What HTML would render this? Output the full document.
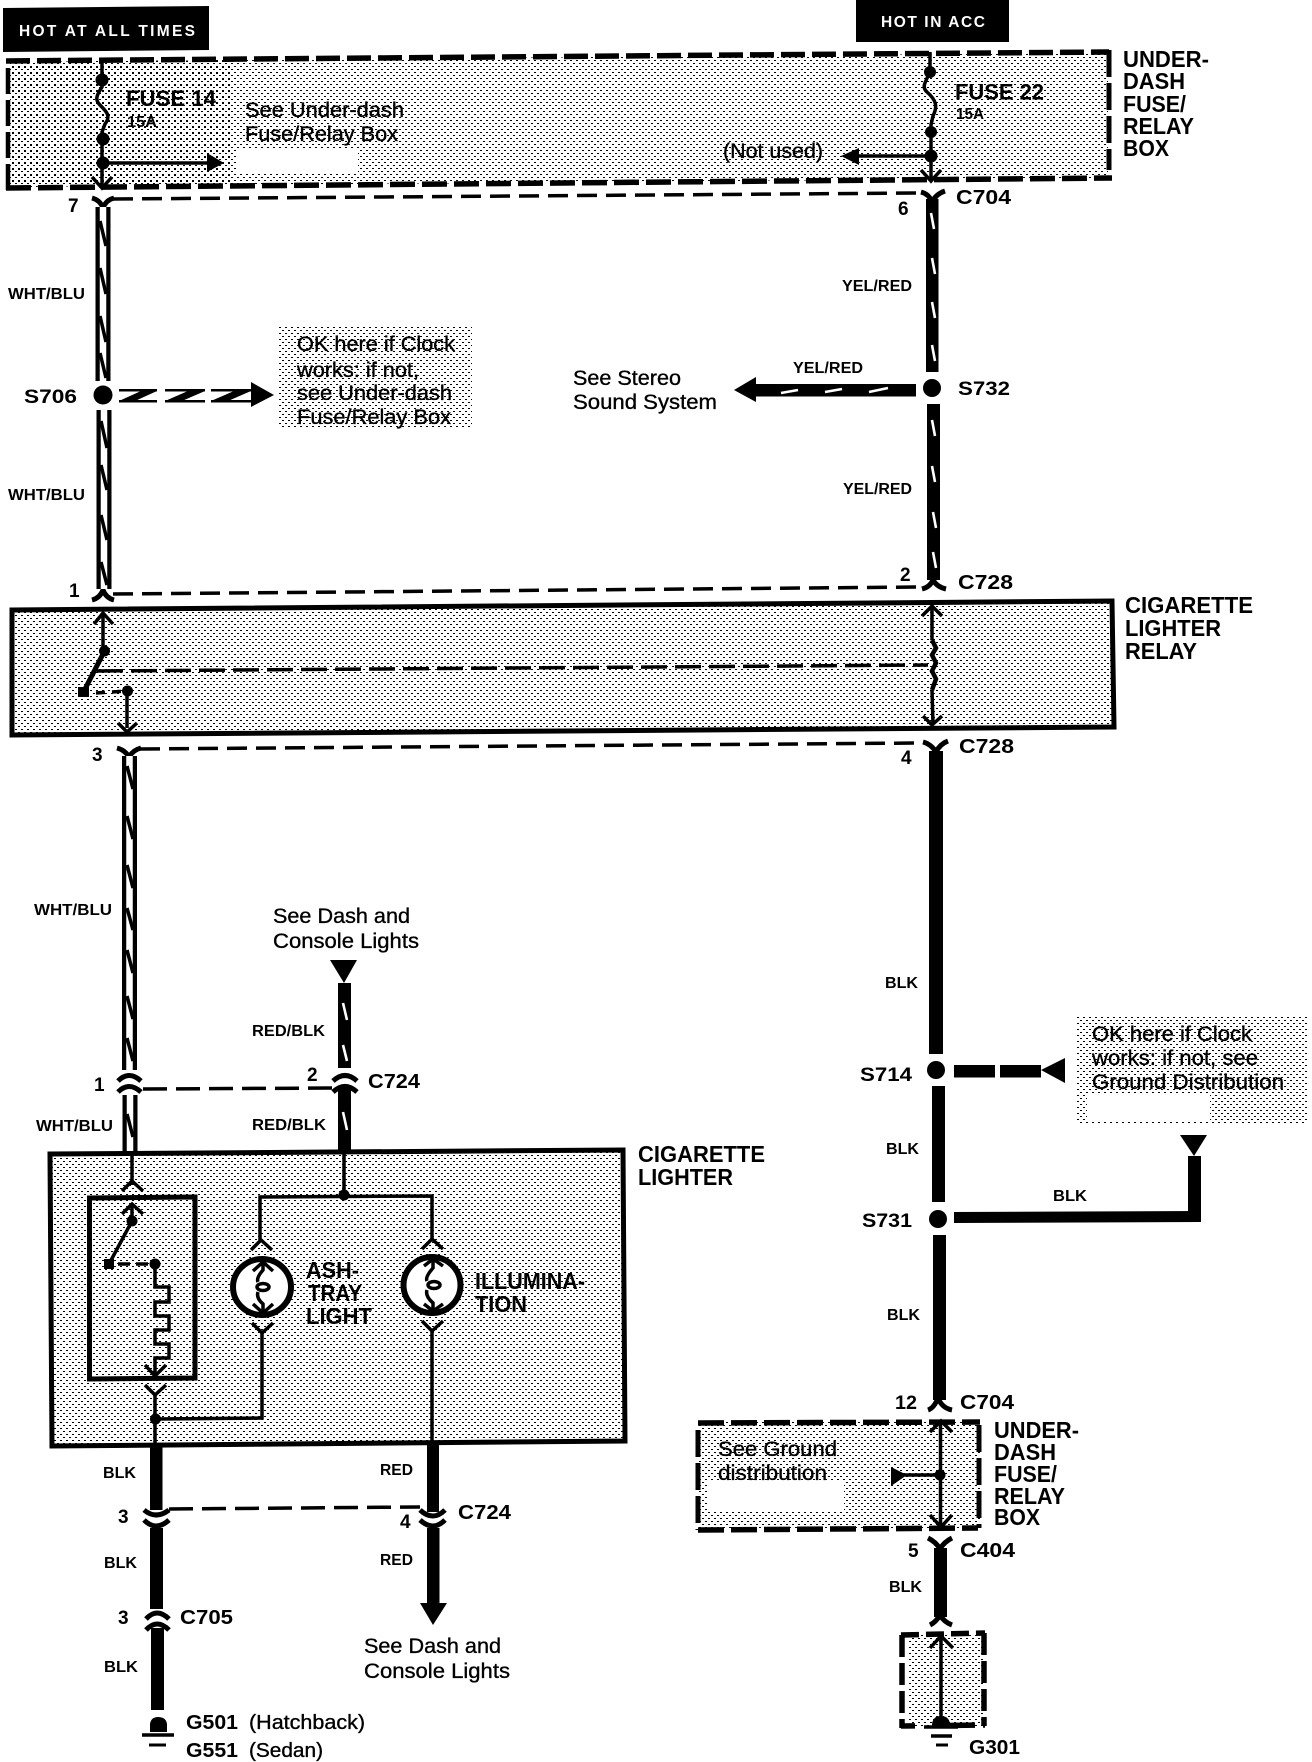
<!DOCTYPE html>
<html><head><meta charset="utf-8"><style>
html,body{margin:0;padding:0;background:#fff}
svg{display:block}
text{font-family:"Liberation Sans",sans-serif;fill:#000}
.b{font-weight:bold}
.r{stroke:#000;stroke-width:.35}
.w{fill:#fff;font-weight:bold}
.k{fill:none;stroke:#000;stroke-linecap:butt;stroke-linejoin:miter}
.hl{fill:none;stroke:#fff}
</style></head><body>
<svg width="1312" height="1762" viewBox="0 0 1312 1762" xmlns="http://www.w3.org/2000/svg">
<defs>
<pattern id="h" width="6" height="6" patternUnits="userSpaceOnUse"><rect width="2" height="1" x="0" y="0"/><rect width="2" height="1" x="3" y="3"/></pattern>
<pattern id="d" width="6" height="6" patternUnits="userSpaceOnUse"><rect width="2" height="2" x="0" y="0"/><rect width="2" height="1" x="3" y="3"/></pattern>
</defs>
<rect width="1312" height="1762" fill="#fff"/>

<!-- shaded fills -->
<g shape-rendering="crispEdges" fill="url(#h)">
<polygon points="230,60 1108,53 1108,178 230,185"/>
<polygon fill="url(#d)" points="10,62 230,60 230,185 10,187"/>
<polygon points="278,325 472,325 472,428 278,428"/>
<polygon points="12,610 1112,601 1114,727 12,735"/>
<polygon points="1076,1015 1307,1015 1307,1123 1076,1123"/>
<polygon points="50,1154 623,1150 625,1441 52,1446"/>
<polygon points="698,1422 980,1422 980,1530 698,1530"/>
<polygon points="908,1634 984,1634 984,1727 908,1727"/>
</g>
<g fill="#fff">
<rect x="236" y="150" width="122" height="23"/>
<rect x="1087" y="1093" width="123" height="27"/>
<rect x="708" y="1482" width="136" height="29"/>
</g>

<!-- black headers -->
<polygon points="3,8 209,6 209,50 3,52"/>
<rect x="856" y="0" width="153" height="42"/>
<text class="w" x="19" y="36" font-size="15.500" textLength="176" lengthAdjust="spacing">HOT AT ALL TIMES</text>
<text class="w" x="881" y="27" font-size="15.500" textLength="104" lengthAdjust="spacing">HOT IN ACC</text>

<!-- dashed box: fuse/relay -->
<g class="k" stroke-width="5.500">
<path d="M6,61 L1109,52" stroke-dasharray="24 7"/>
<path d="M6,188 L1112,178" stroke-dasharray="25 7"/>
<path d="M8,68 L8,190" stroke-dasharray="26 6" stroke-width="4.500"/>
<path d="M1109,50 L1109,170" stroke-dasharray="27 6" stroke-width="5"/>
</g>

<!-- fuse 14 -->
<g class="k" stroke-width="3.500">
<path d="M102,60 L102,87 C96,96 95,100 100,105 C107,112 111,116 105,124 L102,132 L102,187"/>
<path d="M102,163 L210,163"/>
<path d="M92,177 L102,188 L112,177"/>
</g>
<circle cx="102" cy="80" r="6.500"/><circle cx="103" cy="139" r="6.500"/><circle cx="103" cy="163" r="6.500"/>
<polygon points="207,153 224,163 207,172"/>

<!-- fuse 22 -->
<g class="k" stroke-width="3.500">
<path d="M930,52 L930,72 C924,84 922,88 927,92 C936,100 938,106 933,116 L931,125 L931,180"/>
<path d="M931,156 L850,156"/>
<path d="M921,170 L931,181 L941,170"/>
</g>
<circle cx="930" cy="72" r="6"/><circle cx="931" cy="132" r="6"/><circle cx="931" cy="156" r="6.500"/>
<polygon points="841,156 859,148 859,165"/>

<!-- thin connector dashes -->
<g class="k" stroke-width="3.500" stroke-dasharray="20 9">
<path d="M113,199 L920,193"/>
<path d="M113,594 L920,587"/>
<path d="M140,749 L920,743"/>
<path d="M143,1089 L335,1088" stroke-dasharray="24 9"/>
<path d="M169,1509 L420,1507" stroke-dasharray="24 9"/>
<path d="M97,671 L928,665" stroke-dasharray="26 8"/>
</g>

<!-- connector forks -->
<g class="k" stroke-width="5">
<path d="M92,198 Q100,200 103,208 Q106,200 114,198"/>
<path d="M921,192 Q929,194 932,202 Q936,194 945,191"/>
<path d="M92,600 Q100,598 103,590 Q106,598 114,600"/>
<path d="M922,589 Q930,587 933,580 Q937,587 946,589"/>
<path d="M117,748 Q125,750 129,757 Q133,750 141,748"/>
<path d="M923,742 Q931,744 936,752 Q940,744 948,741"/>
<path d="M118,1081 Q129,1070 141,1081"/>
<path d="M118,1092 Q129,1081 141,1092"/>
<path d="M333,1081 Q345,1070 357,1081"/>
<path d="M333,1092 Q345,1081 357,1092"/>
<path d="M144,1510 Q156,1520 169,1510"/>
<path d="M144,1520 Q156,1532 169,1520"/>
<path d="M420,1510 Q433,1522 445,1510"/>
<path d="M420,1520 Q433,1532 445,1520"/>
<path d="M146,1619 Q157,1607 169,1619"/>
<path d="M146,1630 Q157,1618 169,1630"/>
<path d="M928,1410 Q934,1408 938,1398 Q942,1408 952,1410"/>
<path d="M928,1538 Q936,1542 940,1549 Q944,1542 952,1538"/>
<path d="M930,1625 Q936,1622 940,1615 Q944,1622 952,1625"/>
</g>

<!-- WHT/BLU wires -->
<g class="k" stroke-width="15">
<path d="M103,207 L103,381"/><path d="M104,410 L104,589"/>
<path d="M129.500,756 L129.500,1070"/><path d="M130,1095 L130,1152"/>
</g>
<g class="hl" stroke-width="6.500">
<path d="M103,207 L103,381"/><path d="M104,410 L104,589"/>
<path d="M129.500,756 L129.500,1070"/><path d="M130,1095 L130,1152"/>
</g>
<g class="k" stroke-width="3.500">
<path d="M100,221 L106,246 M100,268 L106,294 M100,316 L106,342 M100,353 L106,378"/>
<path d="M101,421 L107,448 M101,465 L107,490 M101,515 L107,540 M101,562 L107,585"/>
<path d="M127,766 L133,789 M127,816 L133,839 M127,865 L133,888 M127,908 L133,930 M127,950 L133,973 M127,996 L133,1019 M127,1038 L133,1061"/>
<path d="M127,1114 L133,1137"/>
</g>
<!-- S706 branch -->
<circle cx="103" cy="395" r="9.500"/>
<g>
<rect x="119" y="389" width="38" height="2.500"/><rect x="119" y="400" width="38" height="2.500"/>
<polygon points="141,391 157,391 135,401 119,401"/>
<rect x="165" y="389" width="40" height="2.500"/><rect x="165" y="400" width="40" height="2.500"/>
<polygon points="188,391 205,391 182,401 165,401"/>
<rect x="211" y="389" width="40" height="2.500"/><rect x="211" y="400" width="40" height="2.500"/>
<polygon points="234,391 251,391 228,401 211,401"/>
</g>
<polygon points="251,382 274,395 251,407"/>

<!-- YEL/RED wires -->
<rect x="926" y="199" width="12.500" height="173"/>
<rect x="927" y="404" width="13" height="176"/>
<circle cx="932" cy="388" r="9"/>
<rect x="756" y="384" width="160" height="12.500"/>
<polygon points="734,390 756,377 756,402"/>
<g class="hl" stroke-width="2.600">
<path d="M931,213 L934,229 M932,258 L935,274 M932,302 L935,318 M932,345 L935,361"/>
<path d="M932,420 L935,436 M932,466 L935,482 M933,512 L936,528 M933,552 L936,568"/>
<path d="M781,393 L798,390 M825,392 L842,389 M869,392 L888,388"/>
</g>

<!-- relay box -->
<polygon class="k" stroke-width="5" points="12,610 1112,601 1114,727 12,735"/>
<g class="k" stroke-width="3.500">
<path d="M103,614 L103,650"/>
<path d="M94,624 L103,613 L113,624"/>
<path d="M104,652 L84,691" stroke-width="5"/>
<path d="M127,691 L127,728"/>
<path d="M118,723 L127,732 L137,723"/>
<path d="M932,606 L932,640 M932,690 L933,724"/>
<path d="M922,616 L932,606 L942,616"/>
<path d="M923,716 L932,725 L942,716"/>
<path d="M932,640 L936,648 L932,655 L936,663 L932,671 L936,679 L932,690" stroke-width="4.500"/>
<path d="M96,693 L127,691" stroke-dasharray="9 7"/>
</g>
<circle cx="104.500" cy="651" r="5.500"/><circle cx="127.500" cy="691" r="5.500"/>
<rect x="78" y="687" width="11" height="10"/>

<!-- C724 upper red/blk -->
<polygon points="330,960 357,960 344,983"/>
<rect x="338" y="983" width="13" height="85"/>
<rect x="338" y="1088" width="13" height="65"/>
<g class="hl" stroke-width="2.600"><path d="M343,1003 L347,1020 M343,1045 L347,1061 M343,1112 L347,1130"/></g>

<!-- BLK right wire -->
<rect x="929" y="751" width="14" height="303"/>
<rect x="932" y="1086" width="13" height="116"/>
<rect x="933" y="1235" width="13" height="165"/>
<circle cx="936" cy="1070" r="9"/>
<circle cx="938" cy="1219" r="9"/>
<rect x="954" y="1065" width="41" height="12.500"/>
<rect x="1000" y="1065" width="41" height="12.500"/>
<polygon points="1041,1070 1065,1058 1065,1083"/>
<polygon points="1180,1135 1207,1135 1194,1156"/>
<rect x="1188" y="1156" width="13" height="66"/>
<polygon points="954,1212 1201,1211 1201,1222 954,1223"/>

<!-- lighter box -->
<polygon class="k" stroke-width="5" points="50,1154 623,1150 625,1441 52,1446"/>
<polygon class="k" stroke-width="5" points="89.500,1198 195,1197 195,1378 89.500,1379"/>
<g class="k" stroke-width="3.500">
<path d="M132,1152 L132,1185 M132,1205 L132,1221"/>
<path d="M122,1191 L132,1181 L143,1191"/>
<path d="M122,1214 L132,1204 L143,1214"/>
<path d="M132,1221 L109,1264"/>
<path d="M118,1264 L155,1264" stroke-dasharray="12 6 12 6"/>
<path d="M155,1264 L155,1287 L169,1287 L169,1302 L155,1302 L155,1316 L169,1316 L169,1330 L155,1330 L155,1344 L169,1344 L169,1358 L155,1358 L155,1375"/>
<path d="M145,1365 L155,1376 L166,1365"/>
<path d="M145,1385 L155,1395 L166,1385"/>
<path d="M155,1395 L155,1446"/>
<path d="M344,1152 L344,1196"/>
<path d="M260,1240 L260,1197 L432,1196 L432,1239"/>
<path d="M251,1250 L261,1240 L272,1250"/>
<path d="M422,1249 L432,1239 L443,1249"/>
<path d="M252,1323 L262,1333 L273,1323"/>
<path d="M262,1333 L262,1418 L156,1419"/>
<path d="M422,1321 L432,1331 L443,1321"/>
<path d="M432,1331 L432,1446"/>
</g>
<circle cx="132" cy="1221" r="5.500"/><circle cx="155" cy="1264" r="5.500"/><rect x="104" y="1259" width="10" height="10"/>
<circle cx="344" cy="1195" r="5.500"/><circle cx="155.500" cy="1419" r="5.500"/>
<!-- bulbs -->
<g class="k">
<ellipse cx="262" cy="1287" rx="29" ry="28" stroke-width="6" fill="#fff"/>
<ellipse cx="432" cy="1285" rx="28.500" ry="28" stroke-width="6" fill="#fff"/>
<g stroke-width="3.500">
<path d="M263,1261 L263,1270 Q256,1278 258,1282 M258,1292 Q256,1298 263,1304 L263,1313"/>
<path d="M253,1271 L263,1262 L273,1271 M253,1304 L263,1313 L273,1304"/>
<path d="M433,1259 L433,1268 Q425,1277 427,1281 M427,1290 Q425,1296 433,1303 L433,1311"/>
<path d="M424,1304 L433,1311 L443,1304 M424,1266 L433,1259 L443,1266"/>
</g>
<ellipse cx="263" cy="1287" rx="6" ry="3.500" stroke-width="3.500"/>
<ellipse cx="434" cy="1285" rx="6" ry="3.500" stroke-width="3.500"/>
</g>

<!-- lower wires -->
<rect x="150" y="1446" width="12.500" height="64"/>
<rect x="150" y="1528" width="13" height="81"/>
<rect x="151" y="1628" width="13" height="82"/>
<rect x="427" y="1442" width="12" height="70"/>
<rect x="427" y="1528" width="12.500" height="75"/>
<polygon points="420,1603 447,1603 433,1625"/>

<!-- ground left -->
<path d="M150,1732 L150,1724 Q151,1717 158,1717 Q166,1717 167,1724 L167,1732 Z"/>
<g class="k" stroke-width="3.500"><path d="M142,1735 L174,1735"/><path d="M149,1745 L166,1745" stroke-width="3"/></g>

<!-- ground-distribution box -->
<g class="k" stroke-width="5.500">
<path d="M698,1423 L980,1422" stroke-dasharray="26 7"/>
<path d="M698,1530 L978,1528" stroke-dasharray="26 7"/>
<path d="M698,1430 L698,1530" stroke-dasharray="27 6" stroke-width="5"/>
<path d="M979,1425 L979,1528" stroke-dasharray="27 6" stroke-width="5"/>
</g>
<g class="k" stroke-width="3.500">
<path d="M940.500,1421 L940.500,1527"/>
<path d="M930,1432 L941,1421 L952,1432"/>
<path d="M930,1515 L941,1527 L952,1515"/>
<path d="M905,1475 L940,1475"/>
</g>
<circle cx="940" cy="1475" r="5.500"/>
<polygon points="891,1467 907,1475 891,1486"/>
<rect x="934" y="1548" width="13" height="69"/>

<!-- G301 -->
<g class="k" stroke-width="5.500">
<path d="M901,1635 L985,1633" stroke-dasharray="18 7"/>
<path d="M901,1726 L985,1725" stroke-dasharray="14 30 30 8"/>
<path d="M902,1635 L902,1728" stroke-dasharray="22 6"/>
<path d="M984,1633 L984,1726" stroke-dasharray="22 6"/>
</g>
<g class="k" stroke-width="3.500">
<path d="M941,1636 L941,1717"/>
<path d="M930,1648 L941,1636 L953,1648"/>
</g>
<path d="M932,1728 L932,1724 Q933,1716 941,1716 Q949,1716 950,1724 L950,1728 Z"/>
<g class="k" stroke-width="3.500"><path d="M924,1727 L958,1727"/><path d="M931,1736 L952,1736"/><path d="M936,1745 L948,1745" stroke-width="3"/></g>

<!-- bold labels -->
<g class="b">
<text x="126" y="106" font-size="22" textLength="90" lengthAdjust="spacingAndGlyphs">FUSE 14</text>
<text x="127" y="127" font-size="16" textLength="30" lengthAdjust="spacingAndGlyphs">15A</text>
<text x="955" y="99.500" font-size="22" textLength="89" lengthAdjust="spacingAndGlyphs">FUSE 22</text>
<text x="956" y="119" font-size="16" textLength="28" lengthAdjust="spacingAndGlyphs">15A</text>
<text x="1123" y="67" font-size="23" textLength="86" lengthAdjust="spacingAndGlyphs">UNDER-</text>
<text x="1123" y="89" font-size="23" textLength="62" lengthAdjust="spacingAndGlyphs">DASH</text>
<text x="1123" y="112" font-size="23" textLength="63" lengthAdjust="spacingAndGlyphs">FUSE/</text>
<text x="1123" y="134" font-size="23" textLength="71" lengthAdjust="spacingAndGlyphs">RELAY</text>
<text x="1123" y="156" font-size="23" textLength="46" lengthAdjust="spacingAndGlyphs">BOX</text>
<text x="68" y="212" font-size="19">7</text>
<text x="956" y="204" font-size="20" textLength="55" lengthAdjust="spacingAndGlyphs">C704</text>
<text x="898" y="215" font-size="19">6</text>
<text x="8" y="299" font-size="16" textLength="77" lengthAdjust="spacingAndGlyphs">WHT/BLU</text>
<text x="8" y="500" font-size="16" textLength="77" lengthAdjust="spacingAndGlyphs">WHT/BLU</text>
<text x="842" y="291" font-size="16" textLength="70" lengthAdjust="spacingAndGlyphs">YEL/RED</text>
<text x="793" y="373" font-size="16" textLength="70" lengthAdjust="spacingAndGlyphs">YEL/RED</text>
<text x="843" y="494" font-size="16" textLength="69" lengthAdjust="spacingAndGlyphs">YEL/RED</text>
<text x="24" y="403" font-size="19" textLength="53" lengthAdjust="spacingAndGlyphs">S706</text>
<text x="958" y="395" font-size="19" textLength="52" lengthAdjust="spacingAndGlyphs">S732</text>
<text x="69" y="597" font-size="19">1</text>
<text x="900" y="581" font-size="19">2</text>
<text x="958" y="589" font-size="20" textLength="55" lengthAdjust="spacingAndGlyphs">C728</text>
<text x="1125" y="613" font-size="23" textLength="128" lengthAdjust="spacingAndGlyphs">CIGARETTE</text>
<text x="1125" y="636" font-size="23" textLength="96" lengthAdjust="spacingAndGlyphs">LIGHTER</text>
<text x="1125" y="659" font-size="23" textLength="72" lengthAdjust="spacingAndGlyphs">RELAY</text>
<text x="92" y="761" font-size="19">3</text>
<text x="901" y="764" font-size="19">4</text>
<text x="959" y="753" font-size="20" textLength="55" lengthAdjust="spacingAndGlyphs">C728</text>
<text x="34" y="915" font-size="16" textLength="78" lengthAdjust="spacingAndGlyphs">WHT/BLU</text>
<text x="36" y="1131" font-size="16" textLength="77" lengthAdjust="spacingAndGlyphs">WHT/BLU</text>
<text x="252" y="1036" font-size="16" textLength="73" lengthAdjust="spacingAndGlyphs">RED/BLK</text>
<text x="252" y="1130" font-size="16" textLength="74" lengthAdjust="spacingAndGlyphs">RED/BLK</text>
<text x="368" y="1088" font-size="20" textLength="52" lengthAdjust="spacingAndGlyphs">C724</text>
<text x="307" y="1081" font-size="19">2</text>
<text x="94" y="1091" font-size="19">1</text>
<text x="885" y="988" font-size="16" textLength="33" lengthAdjust="spacingAndGlyphs">BLK</text>
<text x="860" y="1081" font-size="19" textLength="52" lengthAdjust="spacingAndGlyphs">S714</text>
<text x="886" y="1154" font-size="16" textLength="33" lengthAdjust="spacingAndGlyphs">BLK</text>
<text x="638" y="1162" font-size="23" textLength="127" lengthAdjust="spacingAndGlyphs">CIGARETTE</text>
<text x="638" y="1185" font-size="23" textLength="95" lengthAdjust="spacingAndGlyphs">LIGHTER</text>
<text x="862" y="1227" font-size="19" textLength="50" lengthAdjust="spacingAndGlyphs">S731</text>
<text x="1053" y="1201" font-size="16" textLength="34" lengthAdjust="spacingAndGlyphs">BLK</text>
<text x="887" y="1320" font-size="16" textLength="33" lengthAdjust="spacingAndGlyphs">BLK</text>
<text x="895" y="1409" font-size="19" textLength="22" lengthAdjust="spacingAndGlyphs">12</text>
<text x="960" y="1409" font-size="20" textLength="54" lengthAdjust="spacingAndGlyphs">C704</text>
<text x="994" y="1438" font-size="23" textLength="85" lengthAdjust="spacingAndGlyphs">UNDER-</text>
<text x="994" y="1460" font-size="23" textLength="62" lengthAdjust="spacingAndGlyphs">DASH</text>
<text x="994" y="1482" font-size="23" textLength="63" lengthAdjust="spacingAndGlyphs">FUSE/</text>
<text x="994" y="1504" font-size="23" textLength="71" lengthAdjust="spacingAndGlyphs">RELAY</text>
<text x="994" y="1525" font-size="23" textLength="46" lengthAdjust="spacingAndGlyphs">BOX</text>
<text x="908" y="1557" font-size="19">5</text>
<text x="960" y="1557" font-size="20" textLength="55" lengthAdjust="spacingAndGlyphs">C404</text>
<text x="889" y="1592" font-size="16" textLength="33" lengthAdjust="spacingAndGlyphs">BLK</text>
<text x="969" y="1754" font-size="20" textLength="51" lengthAdjust="spacingAndGlyphs">G301</text>
<text x="306" y="1278" font-size="23" textLength="53" lengthAdjust="spacingAndGlyphs">ASH-</text>
<text x="308" y="1301" font-size="23" textLength="54" lengthAdjust="spacingAndGlyphs">TRAY</text>
<text x="306" y="1324" font-size="23" textLength="66" lengthAdjust="spacingAndGlyphs">LIGHT</text>
<text x="475" y="1289" font-size="23" textLength="110" lengthAdjust="spacingAndGlyphs">ILLUMINA-</text>
<text x="475" y="1312" font-size="23" textLength="52" lengthAdjust="spacingAndGlyphs">TION</text>
<text x="103" y="1478" font-size="16" textLength="33" lengthAdjust="spacingAndGlyphs">BLK</text>
<text x="380" y="1475" font-size="16" textLength="33" lengthAdjust="spacingAndGlyphs">RED</text>
<text x="118" y="1523" font-size="19">3</text>
<text x="458" y="1519" font-size="20" textLength="53" lengthAdjust="spacingAndGlyphs">C724</text>
<text x="400" y="1528" font-size="19">4</text>
<text x="104" y="1568" font-size="16" textLength="33" lengthAdjust="spacingAndGlyphs">BLK</text>
<text x="380" y="1565" font-size="16" textLength="33" lengthAdjust="spacingAndGlyphs">RED</text>
<text x="118" y="1624" font-size="19">3</text>
<text x="180" y="1624" font-size="20" textLength="53" lengthAdjust="spacingAndGlyphs">C705</text>
<text x="104" y="1672" font-size="16" textLength="34" lengthAdjust="spacingAndGlyphs">BLK</text>
<text x="186" y="1729" font-size="20" textLength="52" lengthAdjust="spacingAndGlyphs">G501</text>
<text x="186" y="1757" font-size="20" textLength="52" lengthAdjust="spacingAndGlyphs">G551</text>
</g>

<!-- regular labels -->
<g font-size="21">
<text class="r" x="245" y="117" font-size="21" textLength="159" lengthAdjust="spacingAndGlyphs">See Under-dash</text>
<text class="r" x="245" y="141" font-size="21" textLength="153" lengthAdjust="spacingAndGlyphs">Fuse/Relay Box</text>
<text class="r" x="723" y="158" font-size="21" textLength="100" lengthAdjust="spacingAndGlyphs">(Not used)</text>
<text class="r" x="297" y="351" font-size="21" textLength="158" lengthAdjust="spacingAndGlyphs">OK here if Clock</text>
<text class="r" x="297" y="377" font-size="21" textLength="122" lengthAdjust="spacingAndGlyphs">works: if not,</text>
<text class="r" x="297" y="400" font-size="21" textLength="155" lengthAdjust="spacingAndGlyphs">see Under-dash</text>
<text class="r" x="297" y="424" font-size="21" textLength="154" lengthAdjust="spacingAndGlyphs">Fuse/Relay Box</text>
<text class="r" x="573" y="385" font-size="21" textLength="108" lengthAdjust="spacingAndGlyphs">See Stereo</text>
<text class="r" x="573" y="409" font-size="21" textLength="144" lengthAdjust="spacingAndGlyphs">Sound System</text>
<text class="r" x="273" y="923" font-size="21" textLength="137" lengthAdjust="spacingAndGlyphs">See Dash and</text>
<text class="r" x="273" y="948" font-size="21" textLength="146" lengthAdjust="spacingAndGlyphs">Console Lights</text>
<text class="r" x="1092" y="1041" font-size="21" textLength="160" lengthAdjust="spacingAndGlyphs">OK here if Clock</text>
<text class="r" x="1092" y="1065" font-size="21" textLength="166" lengthAdjust="spacingAndGlyphs">works: if not, see</text>
<text class="r" x="1092" y="1089" font-size="21" textLength="192" lengthAdjust="spacingAndGlyphs">Ground Distribution</text>
<text class="r" x="718" y="1456" font-size="21" textLength="119" lengthAdjust="spacingAndGlyphs">See Ground</text>
<text class="r" x="718" y="1480" font-size="21" textLength="109" lengthAdjust="spacingAndGlyphs">distribution</text>
<text class="r" x="364" y="1653" font-size="21" textLength="137" lengthAdjust="spacingAndGlyphs">See Dash and</text>
<text class="r" x="364" y="1678" font-size="21" textLength="146" lengthAdjust="spacingAndGlyphs">Console Lights</text>
<text class="r" x="249" y="1729" font-size="20" textLength="116" lengthAdjust="spacingAndGlyphs">(Hatchback)</text>
<text class="r" x="249" y="1757" font-size="20" textLength="74" lengthAdjust="spacingAndGlyphs">(Sedan)</text>
</g>
</svg>
</body></html>
